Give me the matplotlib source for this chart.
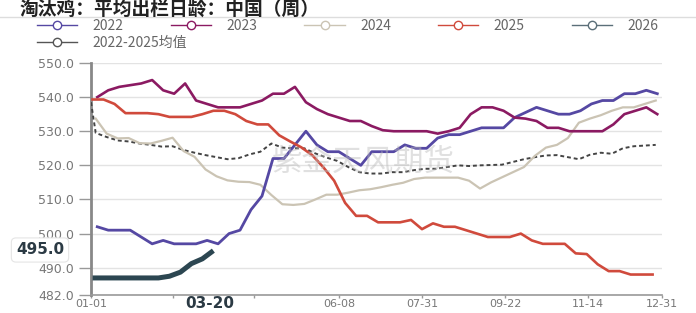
import numpy as np
import matplotlib.pyplot as plt
from matplotlib.lines import Line2D

plt.rcParams["font.family"] = ["Noto Sans CJK SC", "DejaVu Sans"]

# 数据（按周，日序 = 一年中的第几天）
y2022 = [502, 501, 501, 501, 499, 497, 498, 497, 497, 497, 498, 497, 500, 501, 507, 511,
         522, 522, 526, 530, 526, 524, 524, 522, 520, 524, 524, 524, 526, 525, 525, 528,
         529, 529, 530, 531, 531, 531, 534, 535.5, 537, 536, 535, 535, 536, 538, 539, 539,
         541, 541, 542, 541]
y2023 = [540, 542, 543, 543.5, 544, 545, 542, 541, 544, 539, 538, 537, 537, 537, 538, 539,
         541, 541, 543, 538.5, 536.5, 535, 534, 533, 533, 531.5, 530.3, 530, 530, 530, 530,
         529.3, 530, 531, 535, 537, 537, 536, 534, 533.7, 533, 531, 531, 530, 530, 530, 530,
         532, 535, 536, 537, 535]
y2024 = [533.7, 529.3, 527.9, 528, 526.5, 526.4, 527.2, 528.1, 524.2, 522.5, 518.8, 516.8,
         515.6, 515.2, 515.1, 514.3, 511.3, 508.6, 508.4, 508.7, 510, 511.4, 511.4, 512,
         512.7, 513, 513.6, 514.3, 514.9, 516, 516.4, 516.4, 516.4, 516.4, 515.5, 513.2,
         515, 516.5, 518, 519.5, 522.8, 525.2, 526, 528, 532.5, 533.7, 534.7, 536, 537,
         537, 538, 539]
y2025 = [539.3, 539.3, 538, 535.3, 535.3, 535.3, 535, 534.2, 534.2, 534.2, 535, 536, 536,
         535, 533, 532, 532, 528.8, 527, 525.3, 523, 519.5, 515.5, 509, 505.2, 505.2, 503.3,
         503.3, 503.3, 504, 501.3, 503, 502, 502, 501, 500, 499, 499, 499, 500, 498, 497,
         497, 497, 494.2, 494, 491, 489, 489, 488, 488, 488]
y2026 = [487, 487, 487, 487, 487, 487, 487, 487.5, 488.7, 491.2, 492.6, 495.0]
y_avg = [538.5, 529.5, 528.3, 527.3, 527, 526.4, 526, 525.5, 525.6, 524.5, 523.7, 523,
         522.4, 521.8, 522.1, 523.2, 524, 526.4, 525.2, 525, 525, 523.5, 522.3, 521.3,
         519.5, 518, 517.6, 517.6, 518, 518, 518.6, 519, 519, 519.5, 520, 519.8, 520,
         520.1, 520.2, 521, 521.8, 522.4, 522.9, 523, 522.4, 521.8, 523.1, 523.7, 523.4,
         525, 525.6, 525.8, 526]

# 各年第一周的日序
d2022 = 4 + 7 * np.arange(len(y2022))
d2023 = 4 + 7 * np.arange(len(y2023))
d2024 = 3 + 7 * np.arange(len(y2024))
d2025 = 1 + 7 * np.arange(len(y2025))
d2026 = 1 + 7 * np.arange(len(y2026))
d_avg = np.r_[0, 3 + 7 * np.arange(len(y_avg) - 1)]

tick_days = [0, 52, 104, 158, 211, 264, 317, 364]
tick_labels = ["01-01", "02-22", "04-15", "06-08", "07-31", "09-22", "11-14", "12-31"]
y_ticks = [482, 490, 500, 510, 520, 530, 540, 550]

c2022 = "#5548a3"
c2023 = "#8b1a62"
c2024 = "#cbc4b4"
c2025 = "#d04a3c"
c2026 = "#2c4651"
c_avg = "#444444"

fig = plt.figure(figsize=(6.96, 3.13), dpi=100)
ax = fig.add_axes([91 / 696, 1 - 295 / 313, (662 - 91) / 696, (295 - 63) / 313])

ax.plot(d_avg, y_avg, color=c_avg, lw=1.4, ls=(0, (2, 1.5)), zorder=3)
ax.plot(d2024, y2024, color=c2024, lw=1.6, zorder=3)
ax.plot(d2022, y2022, color=c2022, lw=2.0, zorder=4)
ax.plot(d2023, y2023, color=c2023, lw=1.9, zorder=4)
ax.plot(d2025, y2025, color=c2025, lw=1.9, zorder=4)
ax.plot(d2026, y2026, color=c2026, lw=3.6, zorder=5, solid_capstyle="butt")

ax.set_xlim(0, 364)
ax.set_ylim(482, 550)
ax.set_xticks(tick_days)
ax.set_xticklabels(tick_labels, family="DejaVu Sans")
ax.set_yticks(y_ticks)
ax.set_yticklabels([f"{v:.1f}" for v in y_ticks], family="DejaVu Sans")
ax.tick_params(axis="y", length=9, width=1, color="#999999", labelsize=9, labelcolor="#777777", pad=3)
ax.tick_params(axis="x", length=2.5, width=1, color="#999999", labelsize=8, labelcolor="#777777", pad=0.5)
# 十字光标标签挡住了这两个日期
for lab in ax.get_xticklabels()[1:3]:
    lab.set_visible(False)
ax.grid(axis="y", color="#e3e3e3", lw=1)
ax.set_axisbelow(True)
for s in ["top", "right"]:
    ax.spines[s].set_visible(False)
ax.spines["left"].set_color("#888888")
ax.spines["left"].set_linewidth(2)
ax.spines["bottom"].set_color("#999999")
ax.spines["bottom"].set_linewidth(1.2)

# 水印
fig.text(363 / 696, 1 - 162 / 313, "紫金天风期货", fontsize=22, color="#bbbbbb",
         alpha=0.45, ha="center", va="center", zorder=0)

# 标题与分隔线
fig.text(20 / 696, 1 - 9 / 313, "淘汰鸡：平均出栏日龄：中国（周）", fontsize=13.5,
         fontweight="bold", color="#222222", va="center")
fig.add_artist(Line2D([0, 1], [1 - 17 / 313] * 2, color="#dddddd", lw=1))

# 图例
def h(c):
    return Line2D([], [], color=c, lw=1, marker="o", markersize=6,
                  markerfacecolor="white", markeredgecolor=c)

leg_kw = dict(loc="upper left", frameon=False, fontsize=10, handlelength=2.9,
              handletextpad=1.1, columnspacing=3.4, labelcolor="#666666",
              borderaxespad=0, borderpad=0)
fig.legend([h(c2022), h(c2023), h(c2024), h(c2025), h("#5b6f79")],
           ["2022", "2023", "2024", "2025", "2026"], ncol=5,
           bbox_to_anchor=(37 / 696, 1 - 19 / 313), **leg_kw)
fig.legend([h("#555555")], ["2022-2025均值"], ncol=1,
           bbox_to_anchor=(37 / 696, 1 - 36 / 313), **leg_kw)

# 十字光标标签
fig.text(40 / 696, 1 - 250 / 313, "495.0", fontsize=11, fontweight="bold",
         family="DejaVu Sans", color="#2b3a44", ha="center", va="center",
         bbox=dict(boxstyle="round,pad=0.3", fc="white", ec="#e5e5e5", lw=0.8))
fig.text(210 / 696, 1 - 303 / 313, "03-20", fontsize=11, fontweight="bold",
         family="DejaVu Sans", color="#2b3a44", ha="center", va="center")

fig.savefig("out.png", dpi=100)
